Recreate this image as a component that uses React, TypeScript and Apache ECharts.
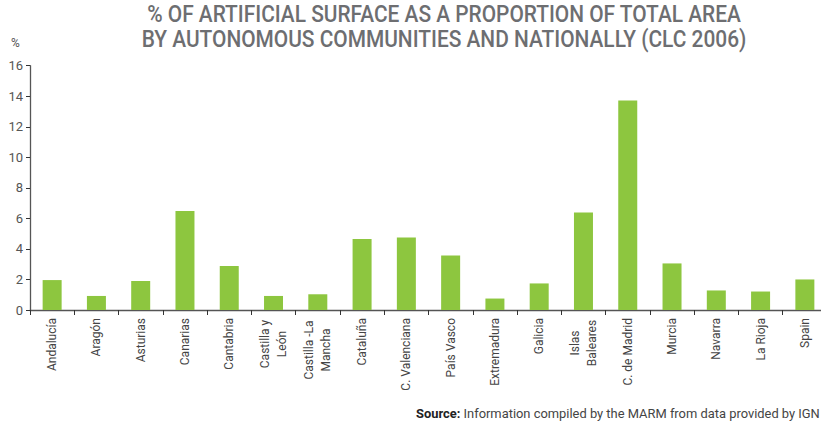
import React, { useEffect, useRef } from "react";
import * as echarts from "echarts";

const categories = [
  "Andalucía",
  "Aragón",
  "Asturias",
  "Canarias",
  "Cantabria",
  "Castilla y\nLeón",
  "Castilla -La\nMancha",
  "Cataluña",
  "C. Valenciana",
  "País Vasco",
  "Extremadura",
  "Galicia",
  "Islas\nBaleares",
  "C. de Madrid",
  "Murcia",
  "Navarra",
  "La Rioja",
  "Spain",
];

const values = [1.96, 0.92, 1.9, 6.48, 2.88, 0.92, 1.03, 4.65, 4.75, 3.57, 0.75, 1.74, 6.38, 13.72, 3.05, 1.28, 1.21, 2.0];

const yTicks = [0, 2, 4, 6, 8, 10, 12, 14, 16];

const titleLines = [
  "% OF ARTIFICIAL SURFACE AS A PROPORTION OF TOTAL AREA",
  "BY AUTONOMOUS COMMUNITIES AND NATIONALLY (CLC 2006)",
];

const multiWidths: Record<string, number> = {
  "Castilla y\nLeón": 52,
  "Castilla -La\nMancha": 64,
  "Islas\nBaleares": 50,
};

export default function App() {
  const ref = useRef<HTMLDivElement>(null);
  useEffect(() => {
    if (!ref.current) return;
    const chart = echarts.init(ref.current, null, { renderer: "svg" });
    const font = "Roboto, 'DejaVu Sans', sans-serif";
    const rich: Record<string, any> = {};
    Object.keys(multiWidths).forEach((k, i) => {
      rich["m" + i] = {
        width: multiWidths[k],
        align: "center",
        fontSize: 12,
        fontFamily: font,
        color: "#444",
        lineHeight: 17,
      };
    });
    chart.setOption({
      animation: false,
      grid: {
        left: 30,
        right: -6,
        top: 65.7,
        bottom: 114,
        outerBoundsMode: "none",
        containLabel: false,
      },
      graphic: [
        {
          type: "text",
          x: 444,
          y: 1,
          scaleX: 0.87,
          style: {
            text: titleLines.join("\n"),
            textAlign: "center",
            textVerticalAlign: "top",
            fontFamily: font,
            fontSize: 24,
            fontWeight: 500,
            lineHeight: 25,
            fill: "#6d6e71",
          },
        },
        {
          type: "text",
          left: 11,
          top: 37,
          style: { text: "%", fontSize: 12, fontFamily: font, fill: "#555" },
        },
        {
          type: "text",
          left: 416,
          top: 407,
          style: {
            text: "{b|Source:} Information compiled by the MARM from data provided by IGN",
            fontSize: 12.9,
            fontFamily: font,
            fill: "#444",
            rich: {
              b: { fontWeight: "bold", fontSize: 12.9, fontFamily: font, fill: "#222", color: "#222" },
            },
          },
        },
      ],
      xAxis: {
        type: "category",
        data: categories,
        boundaryGap: true,
        axisLine: { lineStyle: { color: "#555", width: 1.3 } },
        axisTick: { show: true, alignWithLabel: false, length: 5, lineStyle: { color: "#333" } },
        axisLabel: {
          rotate: 90,
          interval: 0,
          margin: 8,
          fontSize: 12,
          fontFamily: font,
          color: "#444",
          lineHeight: 17,
          rich,
          formatter: (v: string) => {
            const keys = Object.keys(multiWidths);
            const i = keys.indexOf(v);
            if (i < 0) return v;
            return v
              .split("\n")
              .map((l) => `{m${i}|${l}}`)
              .join("\n");
          },
        },
      },
      yAxis: {
        type: "value",
        min: 0,
        max: 16,
        interval: 2,
        splitLine: { show: false },
        axisLine: { show: true, lineStyle: { color: "#555", width: 1.3 } },
        axisTick: { show: true, length: 4, lineStyle: { color: "#333" } },
        axisLabel: {
          fontSize: 13,
          fontFamily: font,
          color: "#555",
          margin: 7,
          customValues: yTicks,
        },
      },
      series: [
        {
          type: "bar",
          data: values,
          barWidth: 19,
          itemStyle: { color: "#8dc63f" },
        },
      ],
    });
    return () => chart.dispose();
  }, []);
  return <div ref={ref} style={{ width: 821, height: 424, position: "absolute", left: 0, top: 0 }} />;
}
